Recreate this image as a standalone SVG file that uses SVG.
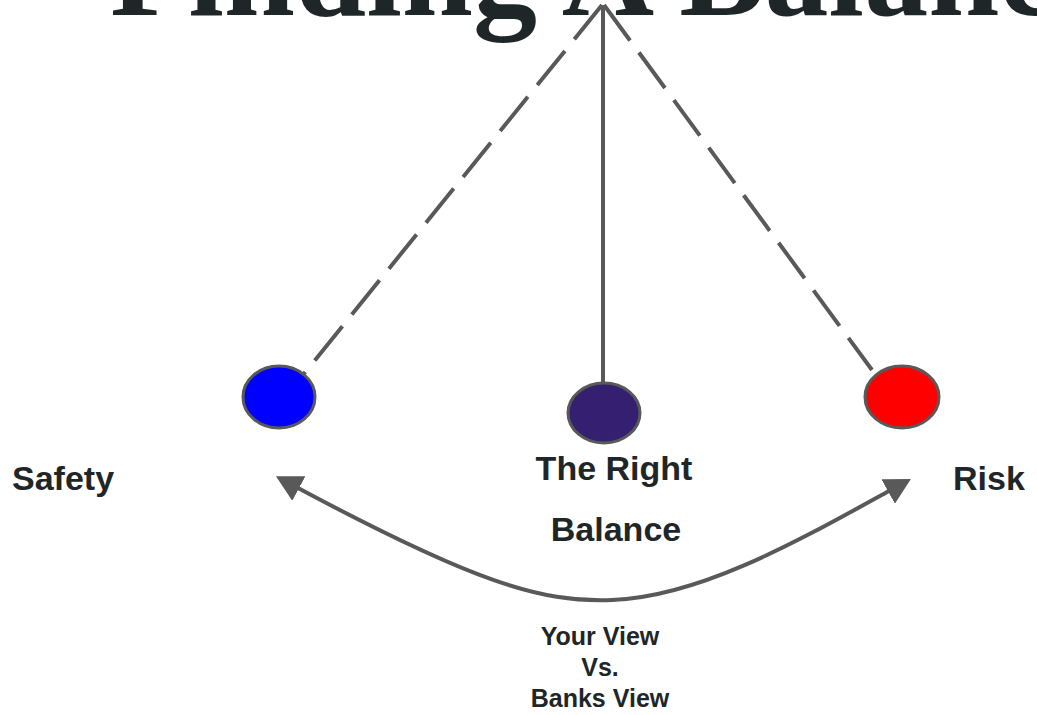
<svg xmlns="http://www.w3.org/2000/svg" width="1037" height="715" viewBox="0 0 1037 715">
<style>
.title{font-family:"Liberation Serif","Times New Roman",serif;font-weight:bold;font-size:128px;fill:#1f2628}
.lbl{font-family:"Liberation Sans",Arial,sans-serif;font-weight:bold;font-size:34px;fill:#1f2628}
.sm{font-family:"Liberation Sans",Arial,sans-serif;font-weight:bold;font-size:25px;fill:#1f2628}
.ball{stroke:#595959;stroke-width:3}
.dash{stroke:#595959;stroke-width:4;fill:none;stroke-dasharray:44 15}
.solid{stroke:#595959;stroke-width:4;fill:none}
</style>
<defs>
<marker id="ah" viewBox="0 0 26 28" refX="1" refY="14" markerWidth="26" markerHeight="28" markerUnits="userSpaceOnUse" orient="auto-start-reverse">
<path d="M0,0 L26,14 L0,28 z" fill="#595959"/>
</marker>
</defs>
<rect width="1037" height="715" fill="#ffffff"/>
<text class="title" x="110" y="15">Finding A Balance</text>
<g id="connectors">
<line class="dash" x1="602" y1="5" x2="303" y2="375"/>
<line class="dash" x1="604" y1="5" x2="872" y2="370"/>
<line class="solid" x1="603" y1="5" x2="603" y2="383"/>
<path class="solid" d="M298,488 C470,580 540,603 612,600 C700,597 800,540 889,491" marker-start="url(#ah)" marker-end="url(#ah)"/>
</g>
<g id="safety">
<ellipse class="ball" cx="279" cy="397" rx="36" ry="31" fill="#0000ff"/>
<text class="lbl" x="12" y="490">Safety</text>
</g>
<g id="balance">
<ellipse class="ball" cx="604" cy="413" rx="36" ry="30" fill="#341f70"/>
<text class="lbl" x="614" y="480" text-anchor="middle">The Right</text>
<text class="lbl" x="616" y="541" text-anchor="middle">Balance</text>
</g>
<g id="risk">
<ellipse class="ball" cx="902" cy="397" rx="37" ry="31" fill="#ff0000"/>
<text class="lbl" x="953" y="490">Risk</text>
</g>
<g id="views">
<text class="sm" x="600" y="645" text-anchor="middle">Your View</text>
<text class="sm" x="600" y="676" text-anchor="middle">Vs.</text>
<text class="sm" x="600" y="707" text-anchor="middle">Banks View</text>
</g>
</svg>
